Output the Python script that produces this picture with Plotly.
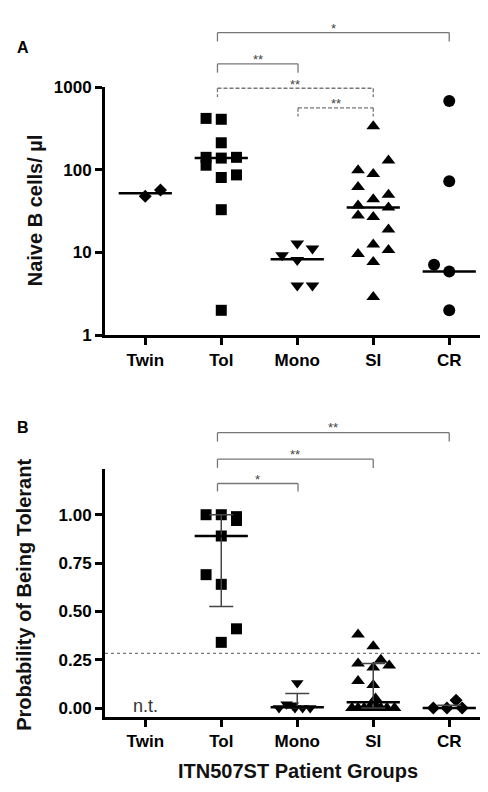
import plotly.graph_objects as go

# ---------------- data ----------------
groups = ["Twin", "Tol", "Mono", "SI", "CR"]

# Panel A: naive B cells / µl
naive_twin = [48, 57]
naive_tol = [420, 410, 213, 142, 114, 139, 142, 81, 87, 33, 2]
naive_mono = [12.9, 11.2, 9.3, 8.1, 4.0, 4.0]
naive_si = [337, 130, 99, 89, 62, 50, 44, 37, 35, 28, 27, 19, 12.5, 10.7, 9.6, 7.7, 2.9]
naive_cr = [684, 73, 7.1, 5.9, 2.0]
naive_median = [52, 139, 8.3, 35, 5.9]

# Panel B: probability of being tolerant (Twin not tested)
prob_tol = [1.0, 1.0, 0.99, 0.97, 0.89, 0.69, 0.64, 0.34, 0.41]
prob_mono = [0.13, 0.02, 0.015, 0.0, 0.0, 0.0, 0.0]
prob_si = [0.38, 0.32, 0.25, 0.23, 0.22, 0.21, 0.14, 0.12, 0.05, 0.03,
           0.0, 0.0, 0.0, 0.0, 0.0, 0.0, 0.0, 0.0]
prob_cr = [0.0, 0.0, 0.04, 0.0]
prob_median = [None, 0.89, 0.005, 0.03, 0.0]
prob_low = [None, 0.525, 0.0, 0.0, 0.0]
prob_high = [None, 1.0, 0.075, 0.23, 0.015]
threshold = 0.283

# scatter-dot jitter (category units)
jit_a_twin = [0.0, 0.2]
jit_a_tol = [-0.2, 0.0, 0.0, -0.2, -0.2, 0.0, 0.2, 0.0, 0.2, 0.0, 0.0]
jit_a_mono = [0.0, 0.2, -0.2, 0.0, 0.0, 0.2]
jit_a_si = [0.0, 0.2, -0.2, 0.0, -0.2, 0.2, 0.0, -0.2, 0.2, -0.2, 0.0, 0.2, 0.0, 0.2, -0.2, 0.0, 0.0]
jit_a_cr = [0.0, 0.0, -0.2, 0.0, 0.0]
jit_b_tol = [-0.2, 0.0, 0.2, 0.2, 0.0, -0.2, 0.0, 0.0, 0.2]
jit_b_mono = [0.0, -0.14, -0.06, -0.24, -0.03, 0.07, 0.17]
jit_b_si = [-0.2, 0.0, 0.1, -0.2, 0.21, 0.0, -0.2, 0.0, 0.03, 0.0,
            -0.28, -0.2, -0.12, -0.05, 0.03, 0.1, 0.18, 0.28]
jit_b_cr = [-0.21, -0.03, 0.09, 0.17]

FONT = "Arial, Liberation Sans, sans-serif"
fig = go.Figure()


def dots(idx, vals, jit, symbol, size, xa, ya):
    fig.add_trace(go.Scatter(
        x=[idx + j for j in jit], y=vals, mode="markers",
        marker=dict(symbol=symbol, size=size, color="black", line=dict(width=0)),
        xaxis=xa, yaxis=ya, showlegend=False, cliponaxis=False, hoverinfo="y"))


# Panel A
dots(0, naive_twin, jit_a_twin, "diamond", 10, "x", "y")
dots(1, naive_tol, jit_a_tol, "square", 11, "x", "y")
dots(2, naive_mono, jit_a_mono, "triangle-down", 12, "x", "y")
dots(3, naive_si, jit_a_si, "triangle-up", 12, "x", "y")
dots(4, naive_cr, jit_a_cr, "circle", 12, "x", "y")
for i, m in enumerate(naive_median):
    fig.add_trace(go.Scatter(x=[i - 0.35, i + 0.35], y=[m, m], mode="lines",
                             line=dict(color="black", width=2.5), xaxis="x", yaxis="y",
                             showlegend=False, hoverinfo="skip", cliponaxis=False))

# Panel B
dots(1, prob_tol, jit_b_tol, "square", 11, "x2", "y2")
dots(2, prob_mono, jit_b_mono, "triangle-down", 11, "x2", "y2")
dots(3, prob_si, jit_b_si, "triangle-up", 12, "x2", "y2")
dots(4, prob_cr, jit_b_cr, "diamond", 10, "x2", "y2")
for i, m in enumerate(prob_median):
    if m is None:
        continue
    fig.add_trace(go.Scatter(
        x=[i], y=[m], mode="markers", marker=dict(size=0.1, color="rgba(0,0,0,0)"),
        error_y=dict(type="data", symmetric=False, array=[prob_high[i] - m],
                     arrayminus=[m - prob_low[i]], color="#444", thickness=1.5, width=12),
        xaxis="x2", yaxis="y2", showlegend=False, hoverinfo="skip", cliponaxis=False))
    fig.add_trace(go.Scatter(x=[i - 0.35, i + 0.35], y=[m, m], mode="lines",
                             line=dict(color="black", width=2.5), xaxis="x2", yaxis="y2",
                             showlegend=False, hoverinfo="skip", cliponaxis=False))

shapes = []
annotations = []


def bracket(x0, x1, ytop, ylegs, yref, xref, dash, label, ylab):
    line = dict(color="#777", width=1.3, dash=dash)
    shapes.append(dict(type="line", xref=xref, yref=yref, x0=x0, x1=x1, y0=ytop, y1=ytop, line=line))
    shapes.append(dict(type="line", xref=xref, yref=yref, x0=x0, x1=x0, y0=ytop, y1=ylegs, line=line))
    shapes.append(dict(type="line", xref=xref, yref=yref, x0=x1, x1=x1, y0=ytop, y1=ylegs, line=line))
    annotations.append(dict(text=label, x=(x0 + x1) / 2, y=ylab, xref=xref, yref=yref,
                            showarrow=False, font=dict(family=FONT, size=13, color="#444"),
                            xanchor="center", yanchor="middle"))


DASH = "4px,2px"
bracket(0.95, 4.0, 1.2205, 1.185, "y domain", "x", "solid", "*", 1.238)
bracket(0.95, 2.01, 1.0945, 1.059, "y domain", "x", "solid", "**", 1.112)
bracket(0.95, 3.0, 0.996, 0.961, "y domain", "x", DASH, "**", 1.013)
bracket(2.01, 3.0, 0.917, 0.882, "y domain", "x", DASH, "**", 0.934)

bracket(0.95, 4.0, 1.146, 1.110, "y2 domain", "x2", "solid", "**", 1.168)
bracket(0.95, 3.0, 1.039, 1.004, "y2 domain", "x2", "solid", "**", 1.060)
bracket(0.95, 2.01, 0.941, 0.909, "y2 domain", "x2", "solid", "*", 0.958)

shapes.append(dict(type="line", xref="x2 domain", yref="y2", x0=0, x1=1,
                   y0=threshold, y1=threshold, line=dict(color="#777", width=1.2, dash="dot")))


def ptext(text, px, py, size, angle=0, weight="bold", color="#111"):
    annotations.append(dict(text=text, x=px / 488, y=1 - py / 792, xref="paper", yref="paper",
                            xanchor="center", yanchor="middle", textangle=angle,
                            showarrow=False,
                            font=dict(family=FONT, size=size, color=color, weight=weight)))


annotations.append(dict(text="n.t.", x=0, y=0.012, xref="x2", yref="y2", showarrow=False,
                        xanchor="center", yanchor="middle",
                        font=dict(family=FONT, size=18, color="#333")))
ptext("A", 15, 31, 16, color="black")
ptext("B", 15, 421, 16, color="black")
ptext("Naive B cells/ µl", 27, 198, 20, angle=-90)
ptext("Probability of Being Tolerant", 16, 592, 20, angle=-90)
ptext("ITN507ST Patient Groups", 290, 773, 20)

axis_common = dict(showline=True, linewidth=3, linecolor="black", ticks="outside",
                   ticklen=7, tickwidth=3, tickcolor="black", showgrid=False, zeroline=False,
                   tickfont=dict(family=FONT, size=17, color="black", weight="bold"))
xdom = [97 / 488, 480 / 488]

fig.update_layout(
    width=488, height=792, margin=dict(l=0, r=0, t=0, b=0),
    paper_bgcolor="white", plot_bgcolor="white", showlegend=False,
    xaxis=dict(domain=xdom, anchor="y", range=[-0.53, 4.51], tickvals=[0, 1, 2, 3, 4],
               ticktext=groups, **axis_common),
    yaxis=dict(domain=[1 - 326 / 792, 1 - 72 / 792], anchor="x", type="log", range=[0, 3],
               tickvals=[1, 10, 100, 1000], ticktext=["1", "10", "100", "1000"], **axis_common),
    xaxis2=dict(domain=xdom, anchor="y2", range=[-0.53, 4.51], tickvals=[0, 1, 2, 3, 4],
                ticktext=groups, **axis_common),
    yaxis2=dict(domain=[1 - 717 / 792, 1 - 463 / 792], anchor="x2", range=[-0.045, 1.237],
                tickvals=[0, 0.25, 0.5, 0.75, 1.0],
                ticktext=["0.00", "0.25", "0.50", "0.75", "1.00"], **axis_common),
    shapes=shapes, annotations=annotations,
)

fig.write_html("out.html")
